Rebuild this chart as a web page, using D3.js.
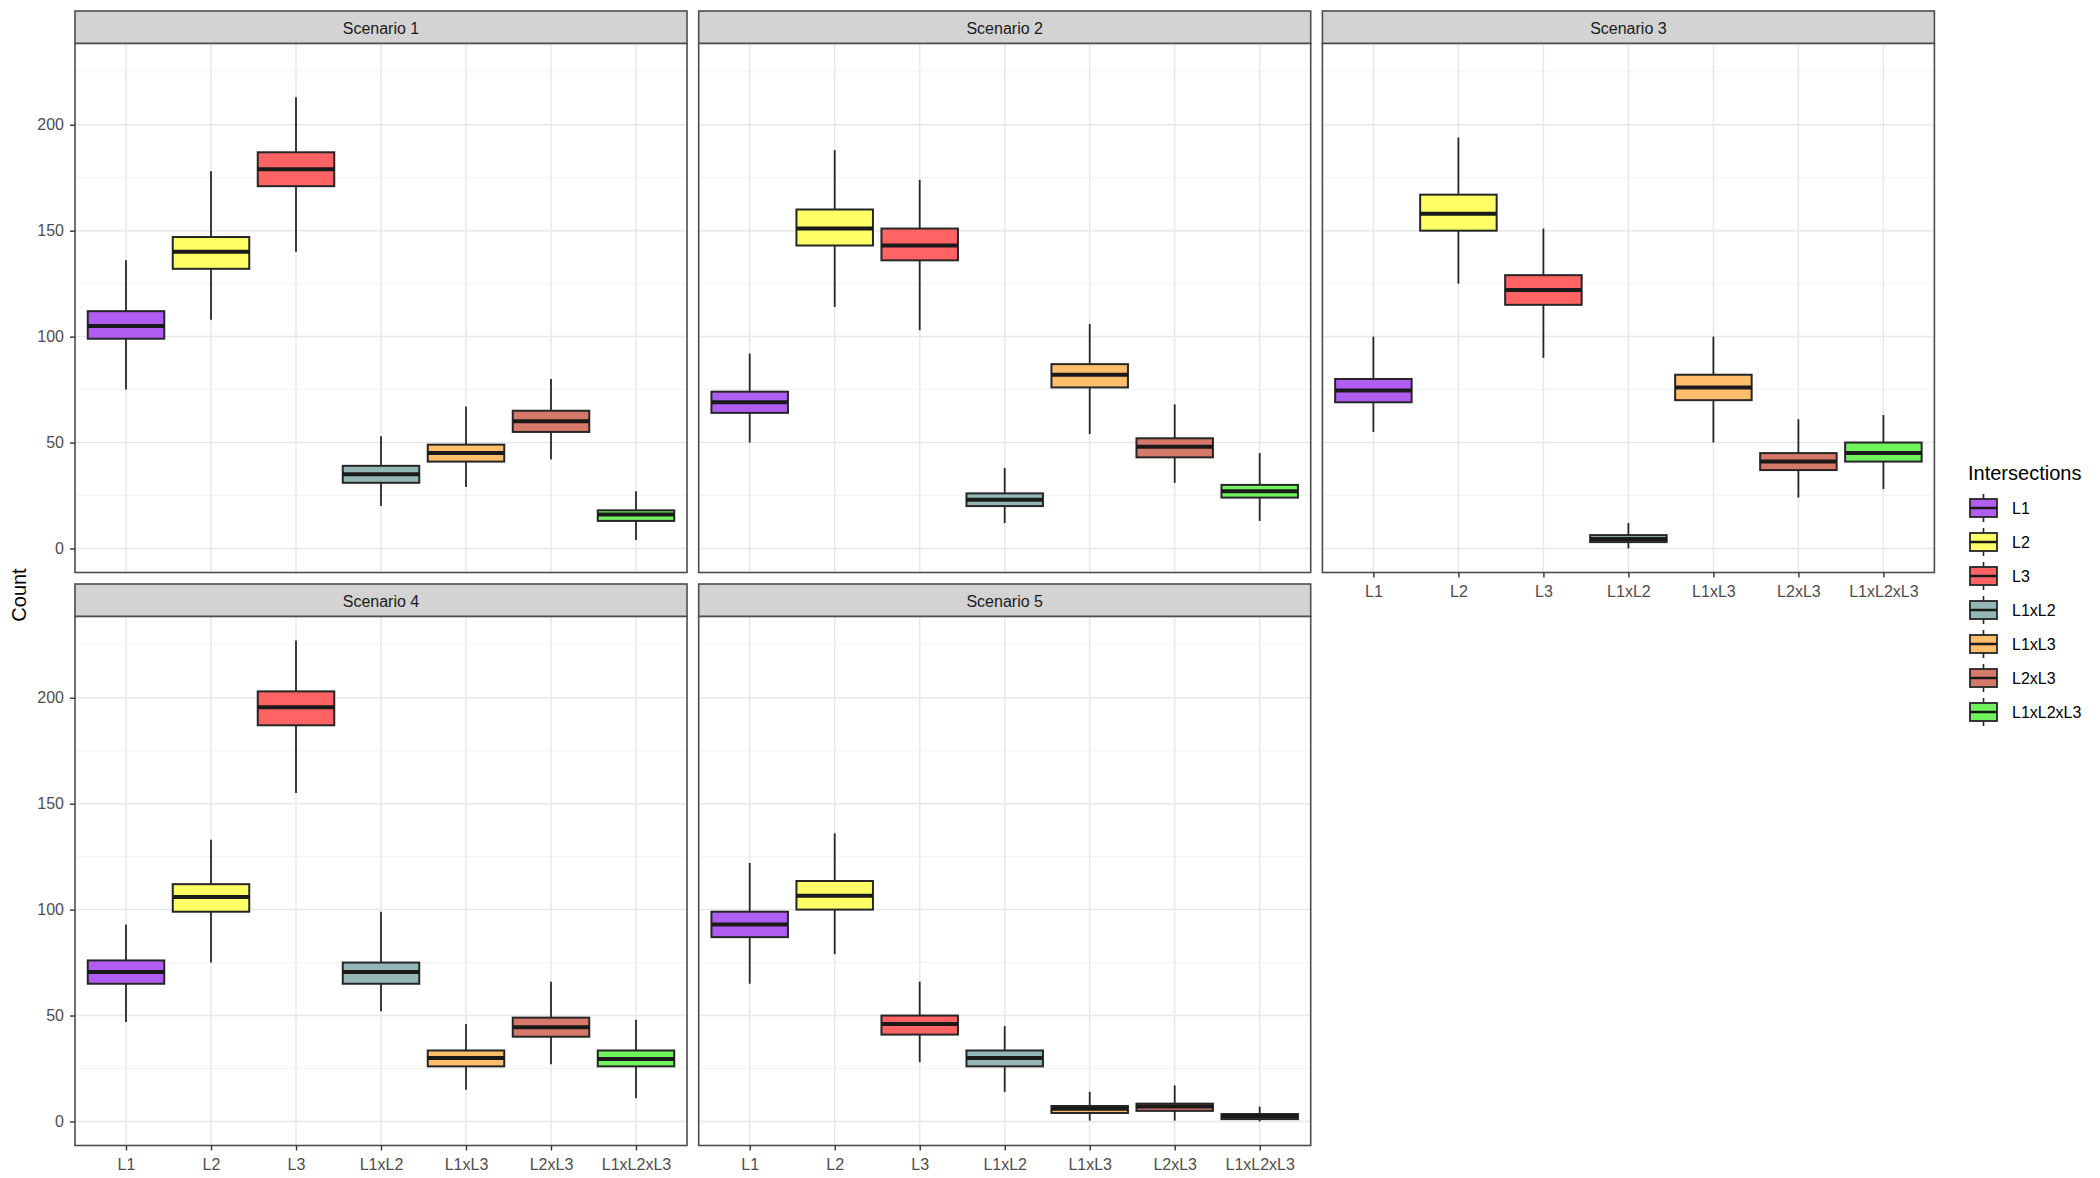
<!DOCTYPE html>
<html>
<head>
<meta charset="utf-8">
<script src="https://cdn.jsdelivr.net/npm/d3@7"></script>
<style>
  body { margin: 0; background: #fff; }
  svg { font-family: "Liberation Sans", Arial, Helvetica, sans-serif; }
</style>
</head>
<body>
<div id="chart"></div>
<script>
// categories and panels
const categories = ['L1', 'L2', 'L3', 'L1xL2', 'L1xL3', 'L2xL3', 'L1xL2xL3'];
const scenarios = ['Scenario 1', 'Scenario 2', 'Scenario 3', 'Scenario 4', 'Scenario 5'];
const fills = ['#b05ef2', '#ffff66', '#ff6363', '#94b6b6', '#ffbe6b', '#d6796a', '#72f25e'];

// box stats, one row per scenario, one value per category
const whiskerLow = [
  [75, 108, 140, 20, 29, 42, 4],
  [50, 114, 103, 12, 54, 31, 13],
  [55, 125, 90, 0, 50, 24, 28],
  [47, 75, 155, 52, 15, 27, 11],
  [65, 79, 28, 14, 0.4, 0.4, 0]
];
const q1 = [
  [99, 132, 171, 31, 41, 55, 13],
  [64, 143, 136, 20, 76, 43, 24],
  [69, 150, 115, 3, 70, 37, 41],
  [65, 99, 187, 65, 26, 40, 26],
  [87, 100, 41, 26, 4, 5, 1.1]
];
const median = [
  [105, 140, 179, 35, 45, 60, 16],
  [69, 151, 143, 23, 82, 48, 27],
  [74.5, 158, 122, 4.5, 76, 41, 45],
  [70.5, 106, 195.5, 70.5, 30, 44.5, 29.5],
  [93, 106.5, 46, 30, 6, 7, 2.4]
];
const q3 = [
  [112, 147, 187, 39, 49, 65, 18],
  [74, 160, 151, 26, 87, 52, 30],
  [80, 167, 129, 6.3, 82, 45, 50],
  [76, 112, 203, 75, 33.5, 49, 33.5],
  [99, 113.5, 50, 33.5, 7.3, 8.4, 3.5]
];
const whiskerHigh = [
  [136, 178, 213, 53, 67, 80, 27],
  [92, 188, 174, 38, 106, 68, 45],
  [100, 194, 151, 12, 100, 61, 63],
  [93, 133, 227, 99, 46, 66, 48],
  [122, 136, 66, 45, 14, 17, 7]
];
const yTicks = [0, 50, 100, 150, 200];
const yMinor = [25, 75, 125, 175, 225];

const width = 2100, height = 1178;
const panelW = 612, gapX = 11.7, left = 75;
const rowTop = [11, 584];
const stripH = 32.5, bodyH = 529;

const svg = d3.select('#chart').append('svg')
  .attr('width', width)
  .attr('height', height);

const x = d3.scalePoint().domain(categories).range([0, panelW]).padding(0.6);
const boxW = x.step() * 0.9;
const y = d3.scaleLinear().domain([-11.35, 238.35]).range([bodyH, 0]);
const color = d3.scaleOrdinal().domain(categories).range(fills);

scenarios.forEach((name, s) => {
  const col = s % 3, row = Math.floor(s / 3);
  const px = left + col * (panelW + gapX);
  const py = rowTop[row];

  // strip
  svg.append('rect')
    .attr('x', px).attr('y', py)
    .attr('width', panelW).attr('height', stripH)
    .attr('fill', '#d3d3d3')
    .attr('stroke', '#4d4d4d').attr('stroke-width', 1.6);
  svg.append('text')
    .attr('x', px + panelW / 2).attr('y', py + stripH / 2 + 6.5)
    .attr('text-anchor', 'middle')
    .style('font-size', '16px')
    .attr('fill', '#1a1a1a')
    .text(name);

  const g = svg.append('g').attr('transform', `translate(${px}, ${py + stripH})`);

  g.append('rect').attr('width', panelW).attr('height', bodyH).attr('fill', '#fff');

  // grid
  g.selectAll('.minor').data(yMinor).enter().append('line')
    .attr('x1', 0).attr('x2', panelW)
    .attr('y1', d => y(d)).attr('y2', d => y(d))
    .attr('stroke', '#efefef').attr('stroke-width', 0.8);
  g.selectAll('.major').data(yTicks).enter().append('line')
    .attr('x1', 0).attr('x2', panelW)
    .attr('y1', d => y(d)).attr('y2', d => y(d))
    .attr('stroke', '#e8e8e8').attr('stroke-width', 1.5);
  g.selectAll('.vgrid').data(categories).enter().append('line')
    .attr('x1', d => x(d)).attr('x2', d => x(d))
    .attr('y1', 0).attr('y2', bodyH)
    .attr('stroke', '#e8e8e8').attr('stroke-width', 1.5);

  // boxplots
  const boxes = g.selectAll('.box').data(categories).enter().append('g');
  boxes.append('line')
    .attr('x1', d => x(d)).attr('x2', d => x(d))
    .attr('y1', (d, i) => y(whiskerHigh[s][i])).attr('y2', (d, i) => y(q3[s][i]))
    .attr('stroke', '#262626').attr('stroke-width', 1.8);
  boxes.append('line')
    .attr('x1', d => x(d)).attr('x2', d => x(d))
    .attr('y1', (d, i) => y(q1[s][i])).attr('y2', (d, i) => y(whiskerLow[s][i]))
    .attr('stroke', '#262626').attr('stroke-width', 1.8);
  boxes.append('rect')
    .attr('x', d => x(d) - boxW / 2)
    .attr('y', (d, i) => y(q3[s][i]))
    .attr('width', boxW)
    .attr('height', (d, i) => y(q1[s][i]) - y(q3[s][i]))
    .attr('fill', d => color(d))
    .attr('stroke', '#262626').attr('stroke-width', 2);
  boxes.append('line')
    .attr('x1', d => x(d) - boxW / 2).attr('x2', d => x(d) + boxW / 2)
    .attr('y1', (d, i) => y(median[s][i])).attr('y2', (d, i) => y(median[s][i]))
    .attr('stroke', '#1a1a1a').attr('stroke-width', 4);

  g.append('rect').attr('width', panelW).attr('height', bodyH)
    .attr('fill', 'none').attr('stroke', '#4d4d4d').attr('stroke-width', 1.6);

  // axes
  if (col === 0) {
    const ya = g.append('g')
      .call(d3.axisLeft(y).tickValues(yTicks).tickSize(5).tickPadding(6));
    ya.select('.domain').remove();
    ya.selectAll('line').attr('stroke', '#333').attr('stroke-width', 1.4);
    ya.selectAll('text').style('font-size', '16px').attr('fill', '#4d4d4d')
      .attr('font-family', null);
  }
  if (row === 1 || col === 2) {
    const xa = g.append('g').attr('transform', `translate(0, ${bodyH})`)
      .call(d3.axisBottom(x).tickSize(5).tickPadding(8));
    xa.select('.domain').remove();
    xa.selectAll('line').attr('stroke', '#333').attr('stroke-width', 1.4);
    xa.selectAll('text').style('font-size', '16px').attr('fill', '#4d4d4d')
      .attr('font-family', null);
  }
});

// y axis title
svg.append('text')
  .attr('transform', 'translate(26, 595) rotate(-90)')
  .attr('text-anchor', 'middle')
  .style('font-size', '20px')
  .text('Count');

// legend
const legend = svg.append('g').attr('transform', 'translate(1966, 0)');
legend.append('text')
  .attr('x', 2).attr('y', 480)
  .style('font-size', '20px')
  .text('Intersections');

const keys = legend.selectAll('.key').data(categories).enter().append('g')
  .attr('transform', (d, i) => `translate(0, ${508 + i * 34})`);
keys.append('line')
  .attr('x1', 17.5).attr('x2', 17.5).attr('y1', -14).attr('y2', -9)
  .attr('stroke', '#262626').attr('stroke-width', 1.6);
keys.append('line')
  .attr('x1', 17.5).attr('x2', 17.5).attr('y1', 9).attr('y2', 14)
  .attr('stroke', '#262626').attr('stroke-width', 1.6);
keys.append('rect')
  .attr('x', 4).attr('y', -9).attr('width', 27).attr('height', 18)
  .attr('fill', d => color(d))
  .attr('stroke', '#262626').attr('stroke-width', 1.8);
keys.append('line')
  .attr('x1', 4).attr('x2', 31).attr('y1', 0).attr('y2', 0)
  .attr('stroke', '#1a1a1a').attr('stroke-width', 2.5);
keys.append('text')
  .attr('x', 46).attr('y', 6)
  .style('font-size', '16px')
  .text(d => d);
</script>
</body>
</html>
